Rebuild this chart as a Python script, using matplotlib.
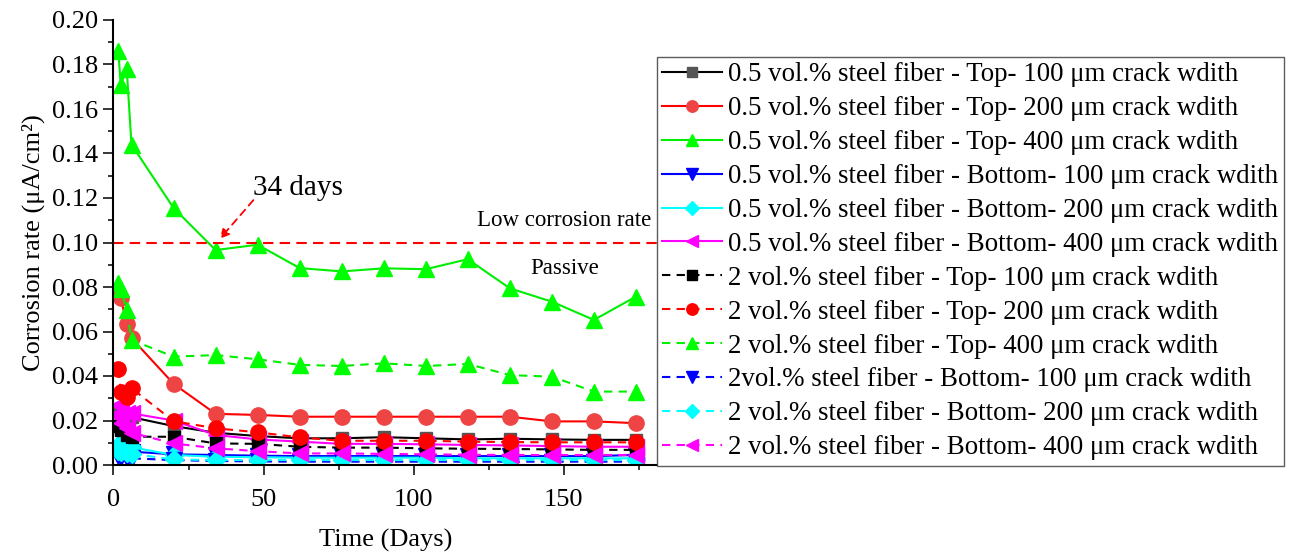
import matplotlib
matplotlib.use("Agg")
import matplotlib.pyplot as plt
from matplotlib.ticker import MultipleLocator

plt.rcParams['font.family'] = ['Liberation Serif', 'DejaVu Serif']

days = [1.6, 2.4, 4.4, 6, 20, 34, 48, 62, 76, 90, 104, 118, 132, 146, 160, 174]

s1_top100_05 = [0.024, 0.023, 0.022, 0.0215, 0.0175, 0.0145, 0.013, 0.012, 0.012, 0.0125, 0.012, 0.0115, 0.0118, 0.0115, 0.0113, 0.0113]
s2_top200_05 = [0.077, 0.075, 0.0635, 0.057, 0.0365, 0.023, 0.0225, 0.0217, 0.0217, 0.0217, 0.0217, 0.0217, 0.0217, 0.0196, 0.0196, 0.0188]
s3_top400_05 = [0.186, 0.171, 0.178, 0.144, 0.1155, 0.0966, 0.099, 0.0885, 0.087, 0.0884, 0.088, 0.0925, 0.0794, 0.0734, 0.0652, 0.0757]
s4_bot100_05 = [0.007, 0.0065, 0.006, 0.006, 0.0048, 0.0045, 0.0042, 0.004, 0.004, 0.004, 0.004, 0.004, 0.004, 0.004, 0.004, 0.0045]
s5_bot200_05 = [0.009, 0.0085, 0.008, 0.008, 0.0045, 0.0037, 0.0035, 0.0033, 0.0033, 0.0033, 0.0033, 0.003, 0.003, 0.003, 0.003, 0.003]
s6_bot400_05 = [0.027, 0.024, 0.0235, 0.0232, 0.020, 0.0135, 0.0115, 0.0105, 0.0095, 0.0095, 0.0093, 0.009, 0.0088, 0.0085, 0.0082, 0.0082]
s7_top100_2 = [0.0175, 0.0157, 0.0135, 0.0127, 0.0127, 0.0097, 0.0095, 0.0082, 0.0078, 0.0078, 0.0075, 0.0073, 0.0072, 0.007, 0.0068, 0.0068]
s8_top200_2 = [0.043, 0.033, 0.0305, 0.0345, 0.0197, 0.0165, 0.0147, 0.0124, 0.0109, 0.0109, 0.0109, 0.0105, 0.0103, 0.0102, 0.0102, 0.0102]
s9_top400_2 = [0.082, 0.079, 0.0697, 0.0562, 0.0487, 0.0494, 0.0475, 0.045, 0.0445, 0.0457, 0.0445, 0.0454, 0.0404, 0.0397, 0.033, 0.033]
s10_bot100_2 = [0.004, 0.0035, 0.003, 0.003, 0.0022, 0.0018, 0.0016, 0.0015, 0.0015, 0.0015, 0.0015, 0.0015, 0.0015, 0.0015, 0.0015, 0.0015]
s11_bot200_2 = [0.0065, 0.006, 0.0055, 0.005, 0.0025, 0.0022, 0.0022, 0.0022, 0.0022, 0.0022, 0.0022, 0.0022, 0.0022, 0.0022, 0.0022, 0.0022]
s12_bot400_2 = [0.022, 0.019, 0.0165, 0.0145, 0.0097, 0.0075, 0.0062, 0.0052, 0.0052, 0.005, 0.0048, 0.0046, 0.0045, 0.0045, 0.0045, 0.0045]

labels = [
    "0.5 vol.% steel fiber - Top- 100 \u03bcm crack wdith",
    "0.5 vol.% steel fiber - Top- 200 \u03bcm crack wdith",
    "0.5 vol.% steel fiber - Top- 400 \u03bcm crack wdith",
    "0.5 vol.% steel fiber - Bottom- 100 \u03bcm crack wdith",
    "0.5 vol.% steel fiber - Bottom- 200 \u03bcm crack wdith",
    "0.5 vol.% steel fiber - Bottom- 400 \u03bcm crack wdith",
    "2 vol.% steel fiber - Top- 100 \u03bcm crack wdith",
    "2 vol.% steel fiber - Top- 200 \u03bcm crack wdith",
    "2 vol.% steel fiber - Top- 400 \u03bcm crack wdith",
    "2vol.% steel fiber - Bottom- 100 \u03bcm crack wdith",
    "2 vol.% steel fiber - Bottom- 200 \u03bcm crack wdith",
    "2 vol.% steel fiber - Bottom- 400 \u03bcm crack wdith",
]
series = [s1_top100_05, s2_top200_05, s3_top400_05, s4_bot100_05, s5_bot200_05, s6_bot400_05,
          s7_top100_2, s8_top200_2, s9_top400_2, s10_bot100_2, s11_bot200_2, s12_bot400_2]

styles = [
    dict(color='#000000', mfc='#555555', mec='#555555', marker='s', ls='-', ms=9),
    dict(color='#FF0000', mfc='#EE4444', mec='#EE4444', marker='o', ls='-', ms=11),
    dict(color='#00EE00', mfc='#00FF00', mec='#00FF00', marker='^', ls='-', ms=12),
    dict(color='#0000FF', mfc='#0000FF', mec='#0000FF', marker='v', ls='-', ms=11),
    dict(color='#00FFFF', mfc='#00FFFF', mec='#00FFFF', marker='D', ls='-', ms=9),
    dict(color='#FF00FF', mfc='#FF00FF', mec='#FF00FF', marker='<', ls='-', ms=12),
    dict(color='#000000', mfc='#000000', mec='#000000', marker='s', ls=(0, (4, 3)), ms=9),
    dict(color='#FF0000', mfc='#FF0000', mec='#FF0000', marker='o', ls=(0, (4, 3)), ms=11),
    dict(color='#00EE00', mfc='#00FF00', mec='#00FF00', marker='^', ls=(0, (4, 3)), ms=12),
    dict(color='#0000FF', mfc='#0000FF', mec='#0000FF', marker='v', ls=(0, (4, 3)), ms=11),
    dict(color='#00FFFF', mfc='#00FFFF', mec='#00FFFF', marker='D', ls=(0, (4, 3)), ms=9),
    dict(color='#FF00FF', mfc='#FF00FF', mec='#FF00FF', marker='<', ls=(0, (4, 3)), ms=12),
]

fig = plt.figure(figsize=(12.99, 5.53), dpi=100)
ax = fig.add_axes([113.5 / 1299, 1 - 465 / 553, (657 - 113.5) / 1299, (465 - 20) / 553])

handles = []
for vals, st, lab in zip(series, styles, labels):
    h, = ax.plot(days, vals, linestyle=st['ls'], color=st['color'], lw=1.5,
                 marker=st['marker'], ms=st['ms'], mfc=st['mfc'], mec=st['mec'], label=lab)
    handles.append(h)

ax.axhline(0.10, color='#FF0000', lw=1.5, ls=(0, (5, 3)))

ax.set_xlim(0, 181)
ax.set_ylim(0, 0.20)
ax.xaxis.set_major_locator(MultipleLocator(50))
ax.xaxis.set_minor_locator(MultipleLocator(25))
ax.yaxis.set_major_locator(MultipleLocator(0.02))
ax.yaxis.set_minor_locator(MultipleLocator(0.01))
ax.yaxis.set_major_formatter(plt.FuncFormatter(lambda v, p: f"{v:.2f}"))
ax.tick_params(which='major', direction='out', length=7, width=1.1, labelsize=19, pad=4)
ax.tick_params(axis='x', which='major', pad=10)
ax.tick_params(which='minor', direction='out', length=3.5, width=1.1)
ax.spines['top'].set_visible(False)
ax.spines['right'].set_visible(False)
ax.spines['left'].set_linewidth(1.5)
ax.spines['bottom'].set_linewidth(1.5)

ax.set_xlabel("Time (Days)", fontsize=19, labelpad=13)
ax.set_ylabel("Corrosion rate (\u03bcA/cm\u00b2)", fontsize=19, labelpad=5)

ax.annotate("", xy=(34.8, 0.1007), xytext=(47.2, 0.120),
            arrowprops=dict(arrowstyle='-|>', color='#FF0000', lw=1.3, ls=(0, (4, 3)),
                            mutation_scale=14))
ax.text(61.5, 0.1245, "34 days", fontsize=21, ha='center', va='center')
ax.text(150.2, 0.1101, "Low corrosion rate", fontsize=16.5, ha='center', va='center')
ax.text(150.2, 0.0881, "Passive", fontsize=16.5, ha='center', va='center')

leg = fig.legend(handles=handles, loc='upper left', bbox_to_anchor=(657 / 1299, 1 - 57 / 553),
                 bbox_transform=fig.transFigure, fontsize=19.4, frameon=True, fancybox=False,
                 borderaxespad=0, borderpad=0.2, handlelength=2.2, handletextpad=0.25,
                 labelspacing=0.33, markerscale=0.75)
leg.get_frame().set_edgecolor('#333333')
leg.get_frame().set_linewidth(1.0)

fig.savefig("out.png", dpi=100)
